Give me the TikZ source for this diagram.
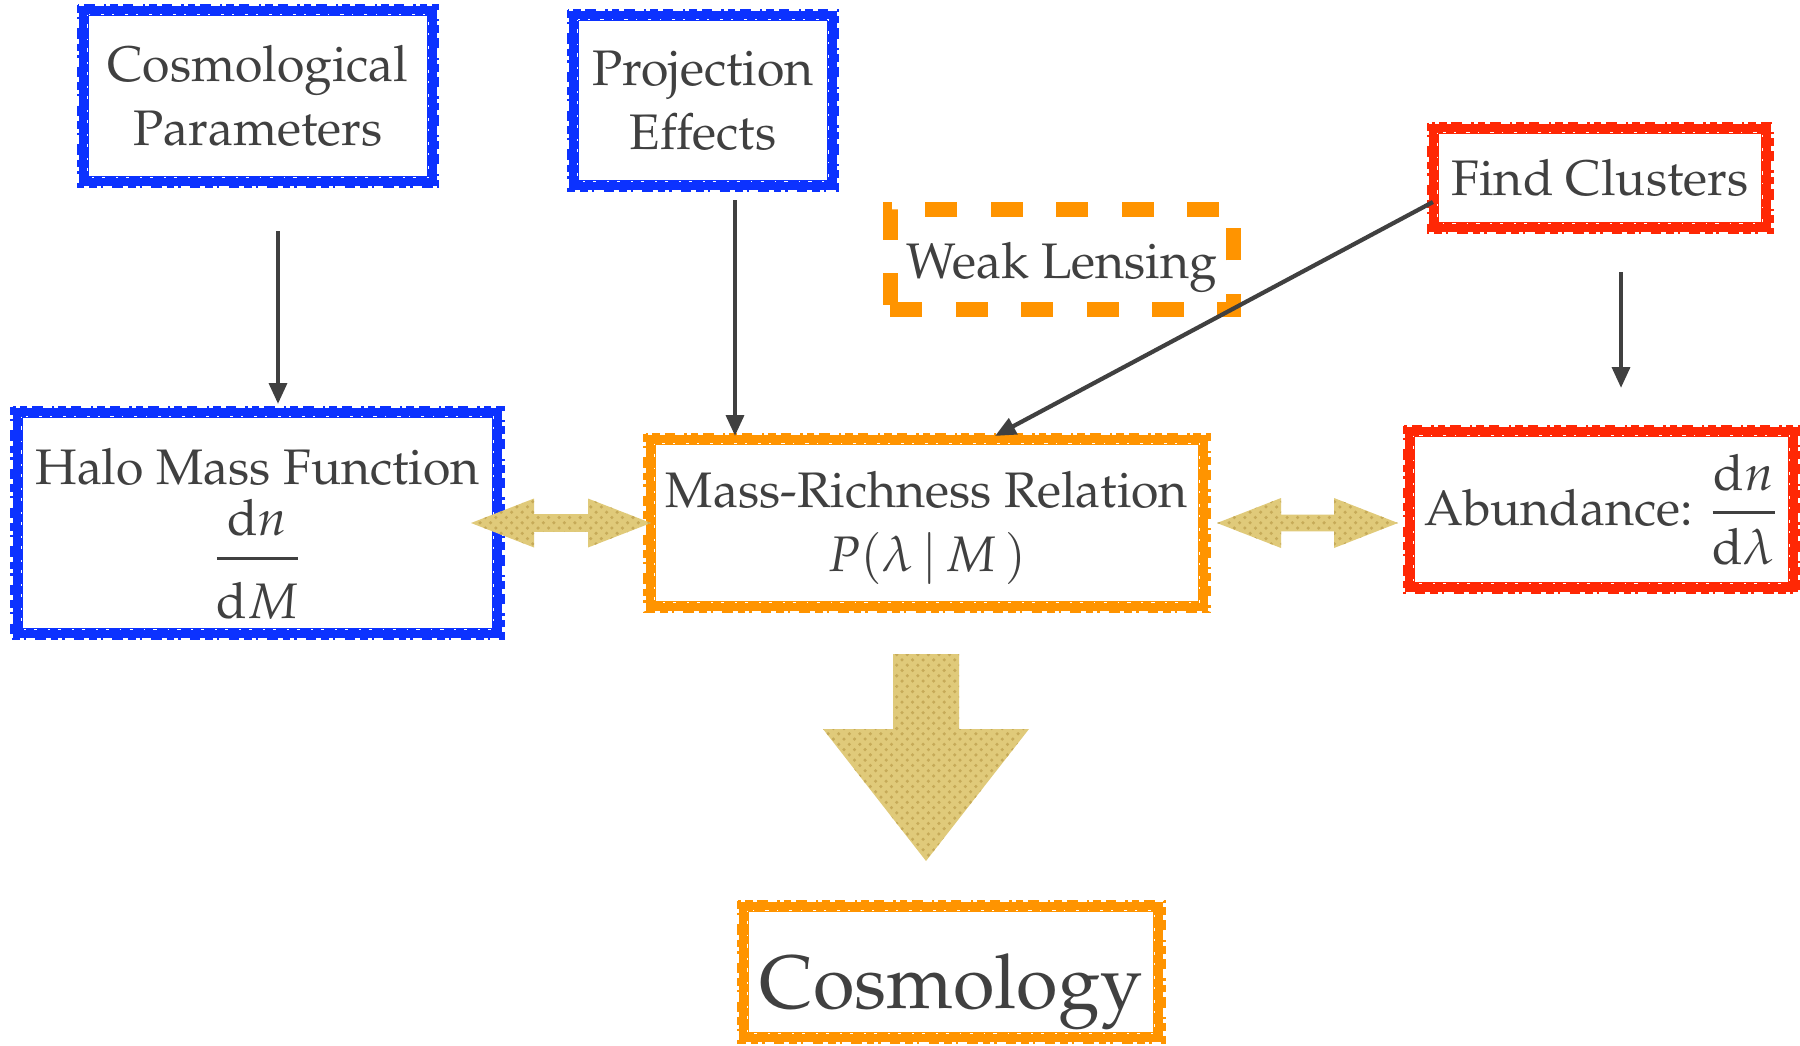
\documentclass[tikz,border=0pt]{standalone}
\usepackage{amsmath}
\usepackage[T1]{fontenc}
\usepackage{mathpazo}
\usetikzlibrary{arrows.meta,patterns,calc}
\definecolor{bblue}{RGB}{12,50,255}
\definecolor{rred}{RGB}{255,40,5}
\definecolor{oorange}{RGB}{255,148,0}
\definecolor{gold}{RGB}{224,202,122}
\definecolor{golddark}{RGB}{198,170,88}
\definecolor{txt}{RGB}{64,64,64}
\tikzset{
  box/.style={draw=#1, line width=2.8pt, inner sep=0pt, outer sep=0pt, align=center, text=txt,
    font=\fontsize{14.2}{18.2}\selectfont},
  speckin/.style={draw=white, line width=0.45pt, dash pattern=on 0.5pt off 2.3pt on 0.9pt off 3.1pt},
  speckout/.style={draw=#1, line width=0.8pt, dash pattern=on 2.2pt off 1.1pt on 0.7pt off 2.6pt on 3pt off 1.4pt},
  weakbox/.style={draw=oorange, line width=4.3pt, dash pattern=on 9.1pt off 9.5pt,
    inner sep=0pt, align=center, text=txt, font=\fontsize{14.2}{18.2}\selectfont},
  conn/.style={draw=txt, line width=1.2pt, -{Triangle[length=5.9pt,width=5pt]}},
  fat/.style={fill=gold, postaction={pattern=crosshatch dots, pattern color=golddark}},
}
\newcommand\roughbox[2]{%
  \draw[speckin] ([shift={(1.05pt,-1.05pt)}]#1.north west) rectangle ([shift={(-1.05pt,1.05pt)}]#1.south east);
  \draw[speckout=#2] ([shift={(-1.7pt,1.7pt)}]#1.north west) rectangle ([shift={(1.7pt,-1.7pt)}]#1.south east);}
\newcommand\fracgap[3][11.5pt]{\genfrac{}{}{0.9pt}{0}{#2\rule[-3.2pt]{0pt}{0pt}}{\rule{0pt}{#1}#3}}
\begin{document}
\begin{tikzpicture}[x=0.01cm,y=-0.01cm]
\useasboundingbox (0,0) rectangle (1800,1045);

\node[box=bblue, minimum width=3.48cm, minimum height=1.70cm] (cosmo) at (258,96) {Cosmological\\Parameters};
\node[box=bblue, minimum width=2.58cm, minimum height=1.69cm] (proj) at (703,100.5) {Projection\\Effects};
\node[box=rred, minimum width=3.32cm, minimum height=0.98cm] (find) at (1600,178) {Find Clusters};
\node[weakbox, minimum width=3.43cm, minimum height=1.00cm, text height=11pt, text depth=0pt] (weak) at (1062,259.5) {Weak Lensing};
\node[box=bblue, minimum width=4.79cm, minimum height=2.20cm] (halo) at (257.5,523) {\rule{0pt}{16.5pt}Halo Mass Function\\[3pt]$\fracgap[14pt]{\mathrm{d}n}{\mathrm{d}M}$};
\node[box=oorange, minimum width=5.52cm, minimum height=1.66cm] (mr) at (927,523) {\rule{0pt}{13pt}Mass-Richness Relation\\$P(\lambda\,|\,M\,)$};
\node[box=rred, minimum width=3.83cm, minimum height=1.55cm] (abund) at (1601.5,509.5) {Abundance: $\fracgap{\mathrm{d}n}{\mathrm{d}\lambda}$};
\node[box=oorange, minimum width=4.14cm, minimum height=1.30cm, text height=20.5pt, text depth=0pt,
  font=\fontsize{21.5}{26}\selectfont] (cosmol) at (951,972) {Cosmology};

\roughbox{cosmo}{bblue}
\roughbox{proj}{bblue}
\roughbox{halo}{bblue}
\roughbox{find}{rred}
\roughbox{abund}{rred}
\roughbox{mr}{oorange}
\roughbox{cosmol}{oorange}

\draw[conn] ($(cosmo.south)+(20,50)$) -- ($(cosmo.south |- halo.north)+(20,-9)$);
\draw[conn] ($(proj.south)+(32,15)$) -- ($(proj.south |- mr.north)+(32,-4)$);
\draw[conn] ($(find.west)+(-1,24)$) -- ($(mr.north)+(68,-4)$);
\draw[conn] ($(find.south)+(21,45)$) -- ($(find.south |- abund.north)+(21,-44)$);

% fat double arrows
\fill[fat] (471,523) -- (534,498.5) -- (534,514.2) -- (588,514.2) -- (588,498.5) -- (651,523)
  -- (588,547.5) -- (588,531.8) -- (534,531.8) -- (534,547.5) -- cycle;
\fill[fat] (1217,523) -- (1281,498) -- (1281,514.7) -- (1334,514.7) -- (1334,498) -- (1398,523)
  -- (1334,548) -- (1334,531.3) -- (1281,531.3) -- (1281,548) -- cycle;
% big down arrow
\fill[fat] (893,654) -- (959,654) -- (959,729) -- (1029,729) -- (926,861) -- (823,729) -- (893,729) -- cycle;
\end{tikzpicture}
\end{document}
